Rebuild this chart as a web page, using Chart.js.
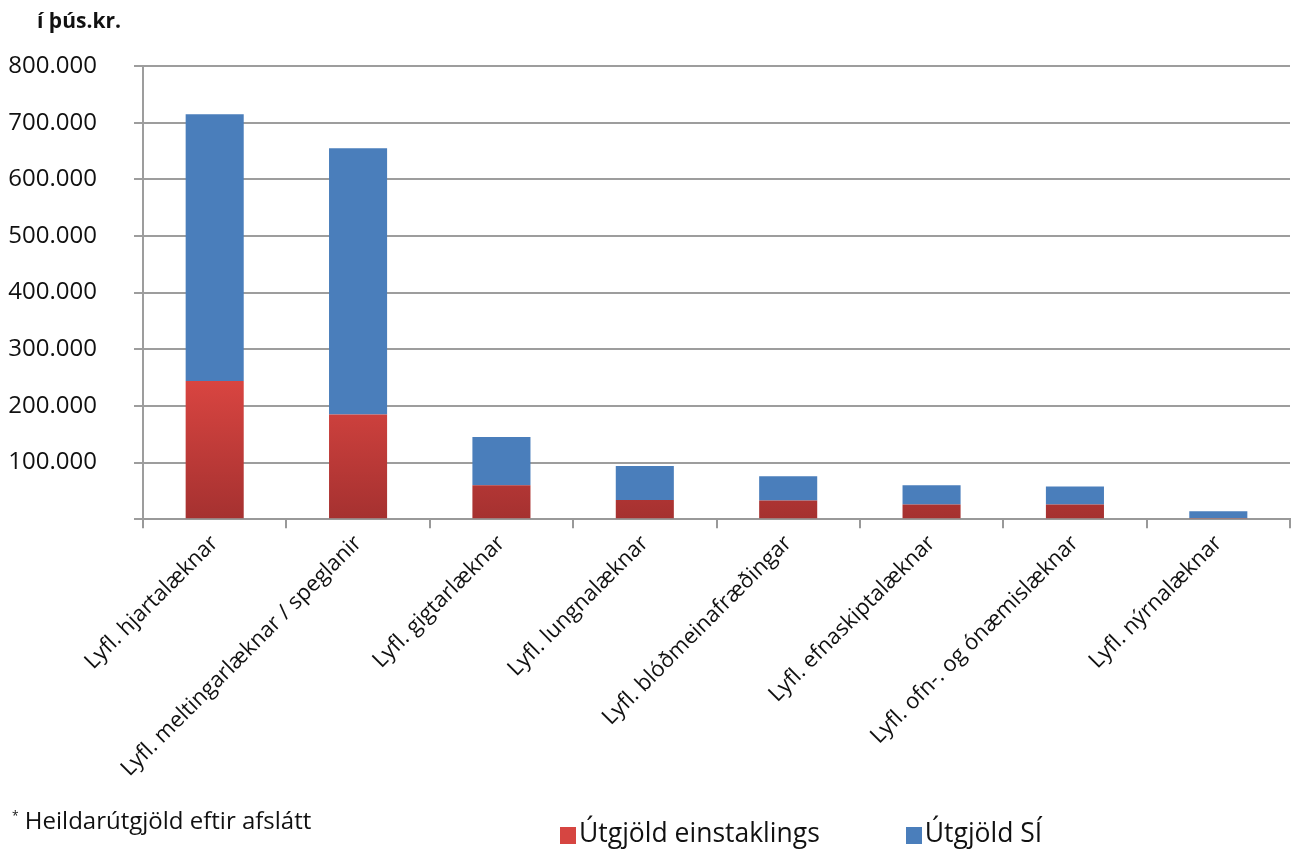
<!DOCTYPE html>
<html>
<head>
<meta charset="utf-8">
<script src="https://cdn.jsdelivr.net/npm/chart.js@4"></script>
<style>
  body { margin: 0; background: #fff; font-family: "Open Sans", sans-serif; }
  #wrap { position: relative; width: 1292px; height: 852px; }
  #unit { position: absolute; left: 37px; top: 6px; font-size: 21px; font-weight: bold; color: #111; }
  #note { position: absolute; left: 12px; top: 803px; font-size: 24px; color: #111; }
  #note sup { font-size: 12px; }
  #legend { position: absolute; left: 560px; top: 814px; font-size: 26.5px; color: #111; display: flex; }
  #legend span.item { display: flex; align-items: center; margin-right: 86px; }
  #legend span.box { width: 16px; height: 17px; margin-right: 3px; margin-top: 6px; }
</style>
</head>
<body>
<div id="wrap">
  <canvas id="myChart" width="1292" height="852"></canvas>
  <div id="unit">í þús.kr.</div>
  <div id="note"><sup>*</sup> Heildarútgjöld eftir afslátt</div>
  <div id="legend"></div>
</div>
<script>
const labels = [
  'Lyfl. hjartalæknar',
  'Lyfl. meltingarlæknar / speglanir',
  'Lyfl. gigtarlæknar',
  'Lyfl. lungnalæknar',
  'Lyfl. blóðmeinafræðingar',
  'Lyfl. efnaskiptalæknar',
  'Lyfl. ofn-. og ónæmislæknar',
  'Lyfl. nýrnalæknar',
];

// í þús.kr.
const einstaklings = [244000, 185000, 60000, 34000, 33000, 26000, 26000, 2000];
const si = [471000, 470000, 85000, 60000, 43000, 34000, 32000, 12000];

const yTicks = [0, 100000, 200000, 300000, 400000, 500000, 600000, 700000, 800000];

function fmt(v) {
  return String(v).replace(/\B(?=(\d{3})+(?!\d))/g, '.');
}

// red bars get a light-to-dark vertical gradient
function redFill(context) {
  const chart = context.chart;
  const area = chart.chartArea;
  if (!area) return '#d64541';
  const g = chart.ctx.createLinearGradient(0, area.bottom - 140, 0, area.bottom);
  g.addColorStop(0, '#d94541');
  g.addColorStop(1, '#a53130');
  return g;
}

const data = {
  labels: labels,
  datasets: [{
    label: 'Útgjöld einstaklings',
    backgroundColor: redFill,
    legendColor: '#d64541',
    data: einstaklings,
  }, {
    label: 'Útgjöld SÍ',
    backgroundColor: '#4a7ebb',
    legendColor: '#4a7ebb',
    data: si,
  }]
};

const config = {
  type: 'bar',
  data,
  options: {
    responsive: false,
    animation: false,
    layout: { padding: { top: 66, right: 2, bottom: 68, left: 8 } },
    datasets: { bar: { categoryPercentage: 1, barPercentage: 0.405 } },
    plugins: { legend: { display: false }, tooltip: { enabled: false } },
    scales: {
      x: {
        stacked: true,
        // rotated labels may hang out to the left, like in the original
        afterFit: (axis) => { axis.paddingLeft = 0; },
        grid: { drawOnChartArea: false, color: '#999', lineWidth: 2, tickLength: 9, offset: true },
        border: { color: '#999', width: 2 },
        ticks: {
          color: '#111',
          font: { family: 'Open Sans', size: 22 },
          maxRotation: 45,
          minRotation: 45,
          autoSkip: false,
          padding: 2,
        },
      },
      y: {
        stacked: true,
        min: 0,
        max: 800000,
        afterBuildTicks: (axis) => { axis.ticks = yTicks.map(v => ({ value: v })); },
        afterFit: (axis) => { axis.width = 135; },
        grid: { color: '#9d9d9d', lineWidth: 2, tickLength: 9 },
        border: { color: '#9d9d9d', width: 2 },
        ticks: {
          color: '#111',
          font: { family: 'Open Sans', size: 24 },
          padding: 37,
          callback: (v) => v === 0 ? '' : fmt(v),
        },
      },
    },
  },
};

var myChart = new Chart(document.getElementById('myChart'), config);

// legend built from the datasets
const leg = document.getElementById('legend');
myChart.data.datasets.forEach(ds => {
  const item = document.createElement('span');
  item.className = 'item';
  item.innerHTML = '<span class="box" style="background:' + ds.legendColor + '"></span>' + ds.label;
  leg.appendChild(item);
});
</script>
</body>
</html>
